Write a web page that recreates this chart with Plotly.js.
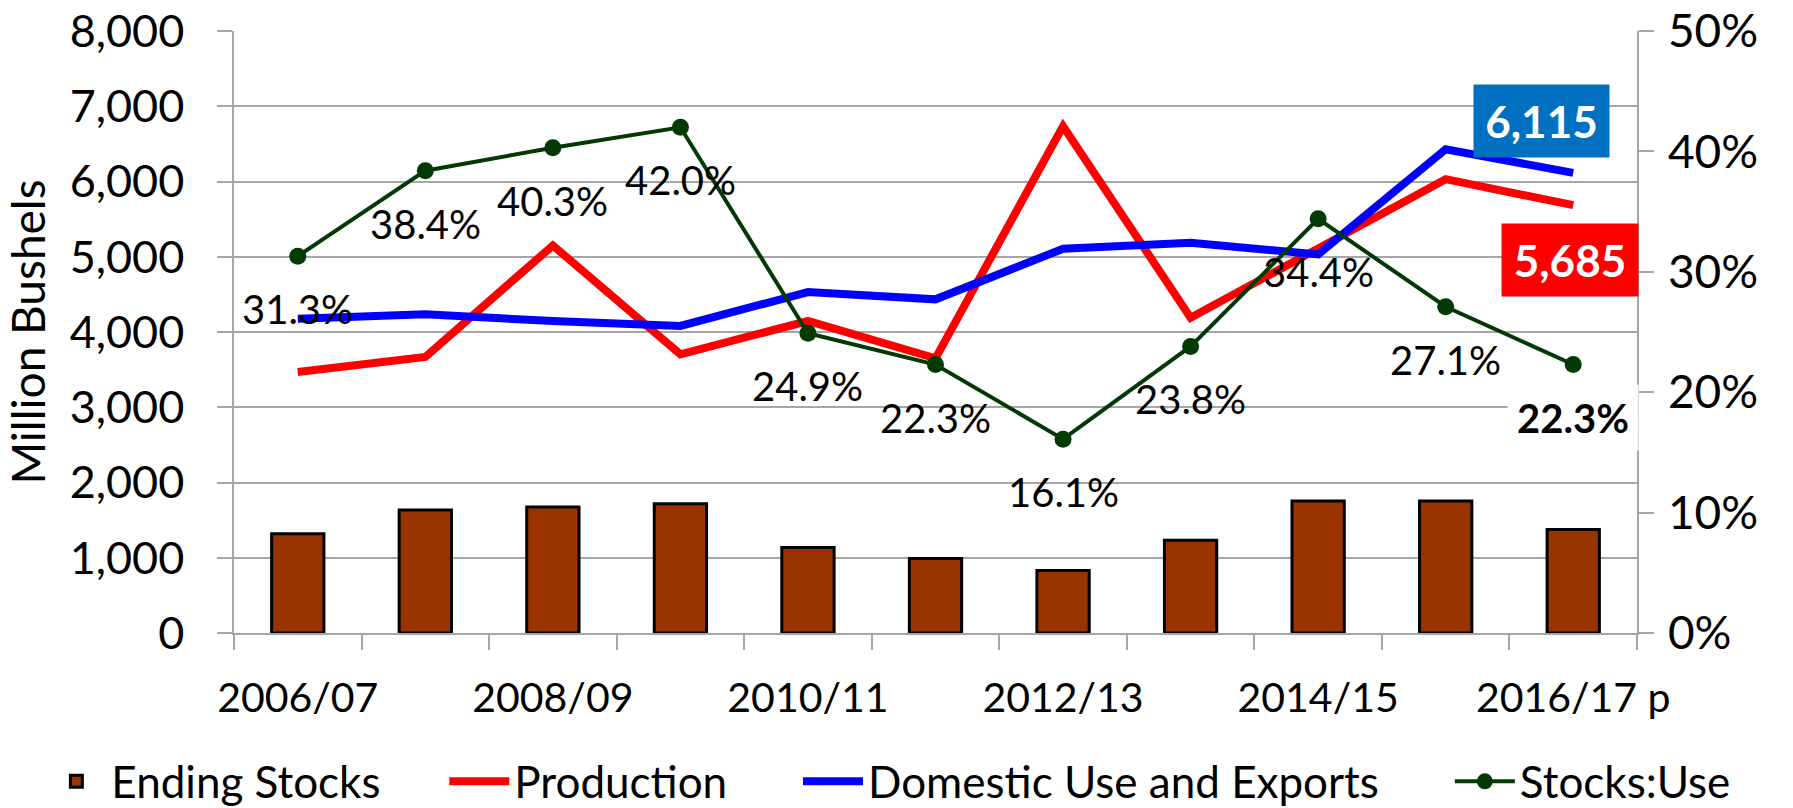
<!DOCTYPE html>
<html><head><meta charset="utf-8">
<script src="https://cdn.plot.ly/plotly-3.0.1.min.js"></script>
<style>html,body{margin:0;padding:0;background:#fff}#chart{width:1793px;height:808px}</style>
</head><body><div id="chart"></div>
<script>
const categories = ['2006/07','2007/08','2008/09','2009/10','2010/11','2011/12','2012/13','2013/14','2014/15','2015/16','2016/17 p'];
const xTickLabels = ['2006/07','','2008/09','','2010/11','','2012/13','','2014/15','','2016/17 p'];
const endingStocks = [1320,1634,1673,1717,1135,989,830,1232,1753,1753,1377];
const production = [3469,3668,5150,3704,4146,3650,6735,4190,5110,6031,5685];
const domesticUseExports = [4177,4235,4146,4080,4531,4434,5106,5186,5031,6429,6115];
const stocksToUse = [31.3,38.4,40.3,42.0,24.9,22.3,16.1,23.8,34.4,27.1,22.3];
const seriesNames = ['Ending Stocks','Production','Domestic Use and Exports','Stocks:Use'];

const FONT = 'Lato, "Open Sans", sans-serif';
const GRID = '#A6A6A6';

const traces = [
  {type:'bar', name:seriesNames[0], x:categories, y:endingStocks, yaxis:'y', width:0.41, legend:'legend',
   marker:{color:'#993300', line:{color:'#000', width:3}}},
  {type:'scatter', mode:'lines', name:seriesNames[1], x:categories, y:production, yaxis:'y', legend:'legend2',
   line:{color:'#FF0000', width:8}},
  {type:'scatter', mode:'lines', name:seriesNames[2], x:categories, y:domesticUseExports, yaxis:'y', legend:'legend3',
   line:{color:'#0000FF', width:8}},
  {type:'scatter', mode:'lines+markers', name:seriesNames[3], x:categories, y:stocksToUse, yaxis:'y2', legend:'legend4',
   line:{color:'#033A03', width:4}, marker:{color:'#033A03', size:17}}
];

const annotations = [];
stocksToUse.forEach((v,i)=>{
  const last = i === stocksToUse.length-1;
  const a = {xref:'x', yref:'y2', x:categories[i], y:v, showarrow:false, yshift:-53,
    text: last ? '<b>'+v.toFixed(1)+'%</b>' : v.toFixed(1)+'%',
    font:{family:FONT, size:40, color:'#000'}};
  if(last){ Object.assign(a,{bgcolor:'#FFFFFF', width:118, height:53, borderpad:6}); }
  annotations.push(a);
});
const li = categories.length-1;
annotations.push({xref:'x', yref:'y', x:categories[li], y:domesticUseExports[li], showarrow:false,
  text:'<b>'+domesticUseExports[li].toLocaleString('en-US')+'</b>', font:{family:FONT, size:44, color:'#FFFFFF'},
  bgcolor:'#0070C0', width:121, height:58, borderpad:7, xshift:-32, yshift:52});
annotations.push({xref:'x', yref:'y', x:categories[li], y:production[li], showarrow:false,
  text:'<b>'+production[li].toLocaleString('en-US')+'</b>', font:{family:FONT, size:44, color:'#FFFFFF'},
  bgcolor:'#FF0000', width:122, height:58, borderpad:7, xshift:-3, yshift:-55});

function legendAt(x){
  return {orientation:'h', x:x, xanchor:'left', y:-0.247, yanchor:'middle',
    font:{family:FONT, size:44, color:'#000'}, itemwidth:60, bgcolor:'rgba(0,0,0,0)'};
}

const layout = {
  width:1793, height:808,
  margin:{l:234, r:156, t:31, b:175, autoexpand:false},
  paper_bgcolor:'#fff', plot_bgcolor:'#fff',
  font:{family:FONT, color:'#000', size:40},
  showlegend:true,
  legend:legendAt(-0.1373), legend2:legendAt(0.1499), legend3:legendAt(0.4020), legend4:legendAt(0.8666),
  xaxis:{type:'category', categoryorder:'array', categoryarray:categories, range:[-0.5,10.5],
    tickmode:'array', tickvals:categories, ticktext:xTickLabels, tickson:'boundaries', tickangle:0,
    ticks:'outside', ticklen:15, tickcolor:GRID, tickwidth:1.5, showgrid:false,
    showline:true, linecolor:GRID, linewidth:1.5, zeroline:false, automargin:false,
    tickfont:{family:FONT, size:41, color:'#000'}, ticklabelstandoff:28},
  yaxis:{range:[0,8000], dtick:1000, tickformat:',d', ticks:'outside', ticklen:15, tickcolor:GRID, tickwidth:1.5,
    showgrid:true, gridcolor:GRID, gridwidth:1.5, showline:true, linecolor:GRID, linewidth:1.5, zeroline:false,
    tickfont:{family:FONT, size:45, color:'#000'}, ticklabelstandoff:24, automargin:false,
    title:{text:'Million Bushels', font:{family:FONT, size:46, color:'#000'}, standoff:18}},
  yaxis2:{overlaying:'y', side:'right', range:[0,50], dtick:10, ticksuffix:'%', ticks:'outside', ticklen:15,
    tickcolor:GRID, tickwidth:1.5, showgrid:false, showline:true, linecolor:GRID, linewidth:1.5, zeroline:false,
    tickfont:{family:FONT, size:46, color:'#000'}, ticklabelstandoff:5, automargin:false},
  annotations:annotations
};

Plotly.newPlot('chart', traces, layout, {displayModeBar:false, responsive:false});
</script>
</body></html>
